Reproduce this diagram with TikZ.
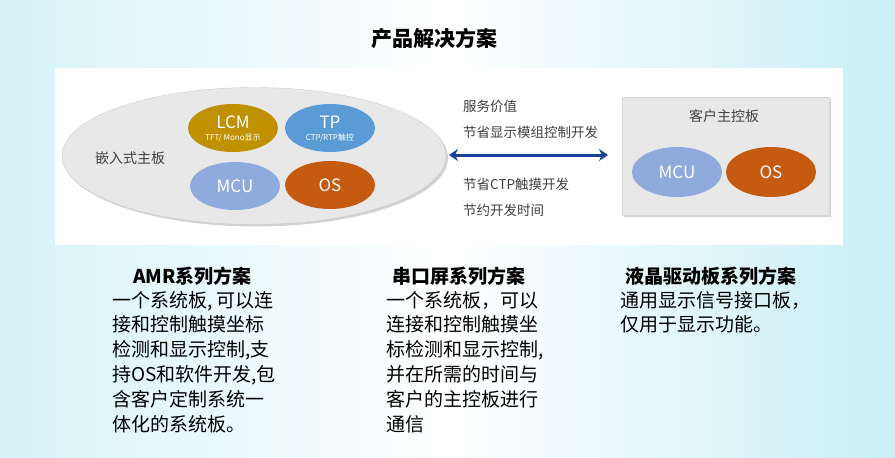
\documentclass[tikz,border=0pt]{standalone}
\usepackage{fontspec}
\setmainfont{Noto Sans CJK SC}
\usetikzlibrary{shapes.geometric,shadows,arrows.meta}
\definecolor{bgcyan}{HTML}{D6F3F8}
\definecolor{bgcyanR}{HTML}{C8EFF6}
\definecolor{panelgray}{HTML}{E8E8E8}
\definecolor{lcmgold}{HTML}{BF9000}
\definecolor{tpblue}{HTML}{5B9BD5}
\definecolor{mcublue}{HTML}{8FAADC}
\definecolor{osorange}{HTML}{C55A11}
\definecolor{arrowblue}{HTML}{17449A}
\definecolor{graytext}{HTML}{404040}
\begin{document}
\begin{tikzpicture}[x=1pt,y=-1pt,
  oval/.style={ellipse,inner sep=0pt,minimum width=90pt,minimum height=48pt,draw=none},
  bigtext/.style={text=white,font=\fontsize{17}{17}\selectfont},
  smalltext/.style={text=white,font=\fontsize{8}{8}\selectfont},
  sidetext/.style={text=graytext,anchor=west,font=\fontsize{13.5}{13.5}\selectfont,inner sep=0pt},
  colhead/.style={anchor=base west,inner sep=0pt,font=\fontsize{19}{19}\bfseries\selectfont},
  colline/.style={anchor=base west,inner sep=0pt,font=\fontsize{19}{19}\selectfont},
  softshadow/.style={drop shadow={shadow xshift=2pt,shadow yshift=-2pt,opacity=0.35,fill=gray}}
]
\useasboundingbox (0,0) rectangle (895,458);
% background
\shade[left color=bgcyan,right color=bgcyanR,middle color=white] (0,0) rectangle (895,458);
\fill[white] (55,68) rectangle (843,245);
% title
\node[font=\fontsize{21}{21}\bfseries\selectfont] (title) at (434,38) {产品解决方案};
% embedded board
\node[ellipse,minimum width=384pt,minimum height=137pt,fill=panelgray,draw=gray!40,softshadow] (big) at (254,156) {};
\node[text=graytext,font=\fontsize{14}{14}\selectfont,anchor=west,inner sep=0pt] (emb) at (95,158) {嵌入式主板};
\node[oval,fill=lcmgold] (lcm) at (233,128) {};
\node[bigtext] (lcmt) at ([yshift=6pt]lcm.center) {LCM};
\node[smalltext] (lcms) at ([yshift=-10pt]lcm.center) {TFT/ Mono显示};
\node[oval,fill=tpblue] (tp) at (330,128) {};
\node[bigtext] (tpt) at ([yshift=6pt]tp.center) {TP};
\node[smalltext] (tps) at ([yshift=-10pt]tp.center) {CTP/RTP触控};
\node[oval,fill=mcublue] (mcu) at (235,186) {};
\node[bigtext] (mcut) at (mcu.center) {MCU};
\node[oval,fill=osorange] (os) at (330,185) {};
\node[bigtext] (ost) at (os.center) {OS};
% arrow
\coordinate (arrL) at (449,155);
\coordinate (arrR) at (608,155);
\draw[arrowblue,line width=3pt,{Stealth[length=9pt,width=12pt,inset=3pt]}-{Stealth[length=9pt,width=12pt,inset=3pt]}] (arrL) -- (arrR);
\node[sidetext] (s1) at (463,106) {服务价值};
\node[sidetext] (s2) at (463,132) {节省显示模组控制开发};
\node[sidetext] (s3) at (463,184) {节省CTP触摸开发};
\node[sidetext] (s4) at (463,210) {节约开发时间};
% customer board
\node[rectangle,minimum width=207pt,minimum height=118pt,fill=panelgray,draw=gray!30,softshadow,inner sep=0pt] (cust) at (725.5,156) {};
\node[text=graytext,font=\fontsize{14}{14}\selectfont] (custt) at (724,116) {客户主控板};
\node[oval,fill=mcublue,minimum height=50pt] (mcu2) at (677,172) {};
\node[bigtext] (mcu2t) at (mcu2.center) {MCU};
\node[oval,fill=osorange,minimum height=50pt] (os2) at (771,172) {};
\node[bigtext] (os2t) at (os2.center) {OS};
% columns
\node[colhead] (h1) at (133,283) {AMR系列方案};
\foreach \t [count=\i] in {{一个系统板, 可以连},{接和控制触摸坐标},{检测和显示控制,支},{持OS和软件开发,包},{含客户定制系统一},{体化的系统板。}}
  \node[colline] (b1-\i) at (112,{307+24.8*(\i-1)}) {\t};
\node[colhead] (h2) at (392,283) {串口屏系列方案};
\foreach \t [count=\i] in {{一个系统板，可以},{连接和控制触摸坐},{标检测和显示控制,},{并在所需的时间与},{客户的主控板进行},{通信}}
  \node[colline] (b2-\i) at (386,{307+24.8*(\i-1)}) {\t};
\node[colhead] (h3) at (625,283) {液晶驱动板系列方案};
\foreach \t [count=\i] in {{通用显示信号接口板，},{仅用于显示功能。}}
  \node[colline] (b3-\i) at (620,{307+24.8*(\i-1)}) {\t};
\end{tikzpicture}
\end{document}
